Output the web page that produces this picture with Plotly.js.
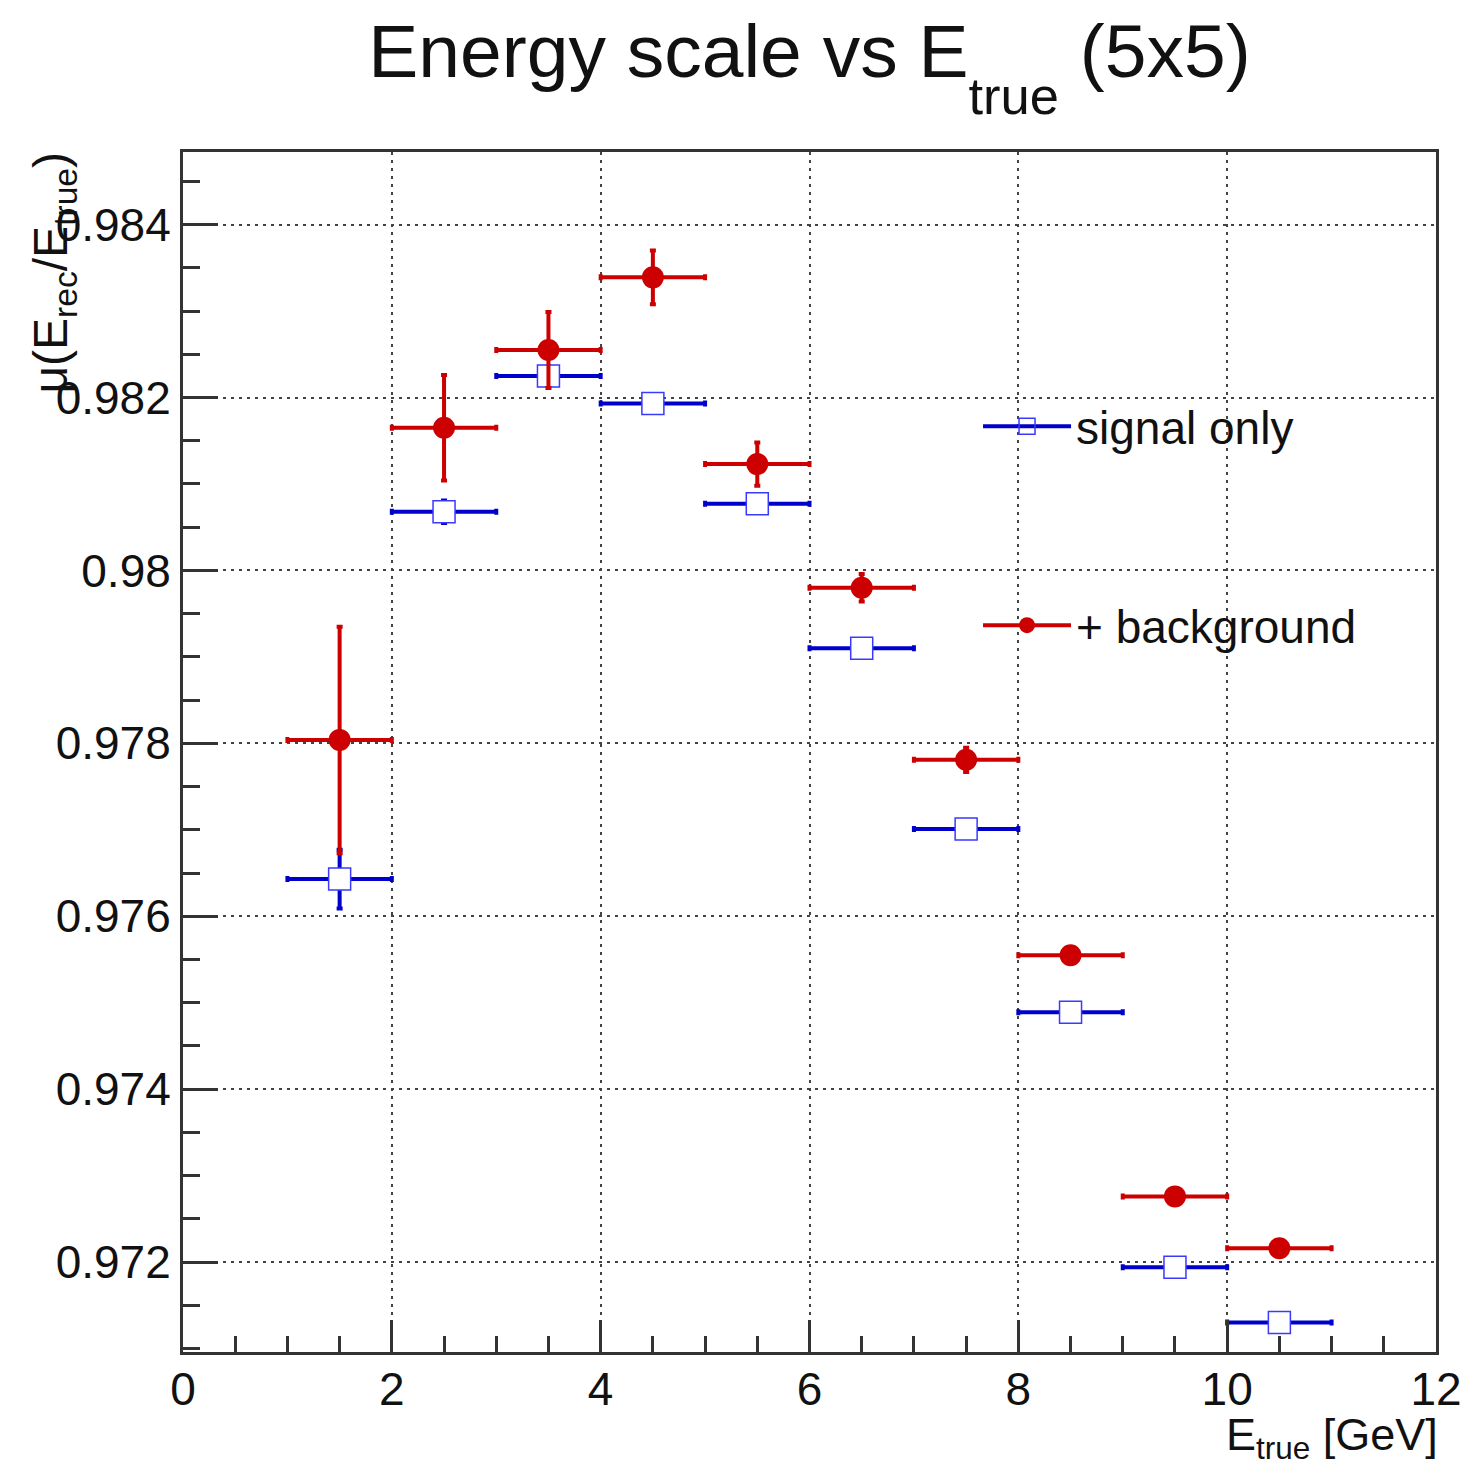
<!DOCTYPE html>
<html>
<head>
<meta charset="utf-8">
<script src="https://cdn.plot.ly/plotly-3.0.1.min.js"></script>
<style>html,body{margin:0;padding:0;background:#fff;}#plot{width:1465px;height:1467px;}</style>
</head>
<body>
<div id="plot"></div>
<script>
// Bin centres (GeV) and half bin widths
const eTrue = [1.5, 2.5, 3.5, 4.5, 5.5, 6.5, 7.5, 8.5, 9.5, 10.5];
const binHalfWidth = [0.5, 0.5, 0.5, 0.5, 0.5, 0.5, 0.5, 0.5, 0.5, 0.5];

// signal only
const signalMu  = [0.97643, 0.98068, 0.98225, 0.98193, 0.98077, 0.97910, 0.97701, 0.97489, 0.97194, 0.97130];
const signalErr = [0.00034, 0.00013, 0.00011, 0.00009, 0.00009, 0.00008, 0.00008, 0.00007, 0.00007, 0.00007];

// + background
const bkgMu  = [0.97804, 0.98165, 0.98255, 0.98339, 0.98123, 0.97980, 0.97781, 0.97555, 0.97276, 0.97216];
const bkgErr = [0.00131, 0.00061, 0.00044, 0.00031, 0.00025, 0.00016, 0.00014, 0.00009, 0.00008, 0.00008];

const xTicks = [0, 2, 4, 6, 8, 10, 12];
const yTicks = [0.972, 0.974, 0.976, 0.978, 0.980, 0.982, 0.984];
const yTickText = ["0.972", "0.974", "0.976", "0.978", "0.98", "0.982", "0.984"];

const BLUE = '#0000cc', RED = '#cc0000';
const FONT = 'Liberation Sans, Arial, Helvetica, sans-serif';

const traces = [
  {
    x: eTrue, y: signalMu, type: 'scatter', mode: 'markers', name: 'signal only',
    legendgroup: 'a', showlegend: false,
    marker: {symbol: 'square', size: 22, color: '#ffffff', line: {color: '#3a3aff', width: 1.5}},
    error_x: {type: 'data', array: binHalfWidth, color: BLUE, thickness: 4, width: 3},
    error_y: {type: 'data', array: signalErr, color: BLUE, thickness: 4, width: 3},
    cliponaxis: false
  },
  {
    x: eTrue, y: bkgMu, type: 'scatter', mode: 'markers', name: '+ background',
    legendgroup: 'b', showlegend: false,
    marker: {symbol: 'circle', size: 22, color: RED, line: {width: 0}},
    error_x: {type: 'data', array: binHalfWidth, color: RED, thickness: 4, width: 3},
    error_y: {type: 'data', array: bkgErr, color: RED, thickness: 4, width: 3},
    cliponaxis: false
  },
  // legend entries
  {
    x: [null], y: [null], type: 'scatter', mode: 'lines+markers', name: 'signal only',
    legendgroup: 'a', showlegend: true,
    line: {color: BLUE, width: 4},
    marker: {symbol: 'square', size: 20, color: 'rgba(255,255,255,0)', line: {color: '#3a3aff', width: 1.5}}
  },
  {
    x: [null], y: [null], type: 'scatter', mode: 'lines+markers', name: '+ background',
    legendgroup: 'b', showlegend: true,
    line: {color: RED, width: 4},
    marker: {symbol: 'circle', size: 20, color: RED}
  }
];

const axisCommon = {
  showline: true, linecolor: '#333333', linewidth: 3, mirror: true,
  ticks: 'inside', tickcolor: '#333333', tickwidth: 3,
  showgrid: true, gridcolor: '#444444', gridwidth: 2, griddash: '3px,5px',
  zeroline: false,
  tickfont: {family: FONT, size: 46, color: '#111111'}
};

const layout = {
  width: 1465, height: 1467,
  margin: {l: 183, r: 29, t: 152, b: 115},
  paper_bgcolor: '#ffffff', plot_bgcolor: '#ffffff',
  font: {family: FONT, color: '#111111'},
  title: {
    text: 'Energy scale vs E<sub><span style="baseline-shift:-0.4em">true</span></sub> (5x5)',
    font: {family: FONT, size: 75, color: '#111111'},
    x: 0.5, xref: 'paper', xanchor: 'center',
    y: 0.983, yref: 'container', yanchor: 'top'
  },
  xaxis: Object.assign({}, axisCommon, {
    range: [0, 12], tickmode: 'array', tickvals: xTicks, ticktext: xTicks.map(String),
    ticklen: 32, ticklabelstandoff: -5,
    minor: {dtick: 0.5, ticks: 'inside', ticklen: 16, tickwidth: 3, tickcolor: '#333333', showgrid: false}
  }),
  yaxis: Object.assign({}, axisCommon, {
    range: [0.97096, 0.98484], tickmode: 'array', tickvals: yTicks, ticktext: yTickText,
    ticklen: 35,
    minor: {dtick: 0.0005, tick0: 0.972, ticks: 'inside', ticklen: 17, tickwidth: 3, tickcolor: '#333333', showgrid: false}
  }),
  showlegend: true,
  legend: {
    x: 0.6345, y: 0.8017, xanchor: 'left', yanchor: 'top',
    xref: 'paper', yref: 'paper',
    bgcolor: 'rgba(255,255,255,0)', borderwidth: 0,
    font: {family: FONT, size: 46, color: '#111111'},
    tracegroupgap: 136, itemwidth: 88
  },
  annotations: [
    {
      text: 'μ(E<sub>rec</sub>/E<sub>true</sub>)', textangle: -90,
      xref: 'paper', yref: 'paper', x: -0.103, y: 1.002,
      xanchor: 'center', yanchor: 'top', showarrow: false,
      font: {family: FONT, size: 48, color: '#111111'}
    },
    {
      text: 'E<sub>true</sub> [GeV]',
      xref: 'paper', yref: 'paper', x: 1.0, y: -0.0958, yshift: 0, xshift: 3,
      xanchor: 'right', yanchor: 'bottom', showarrow: false, borderpad: 0,
      font: {family: FONT, size: 45, color: '#111111'}
    }
  ]
};

Plotly.newPlot('plot', traces, layout, {staticPlot: true, displayModeBar: false});
</script>
</body>
</html>
